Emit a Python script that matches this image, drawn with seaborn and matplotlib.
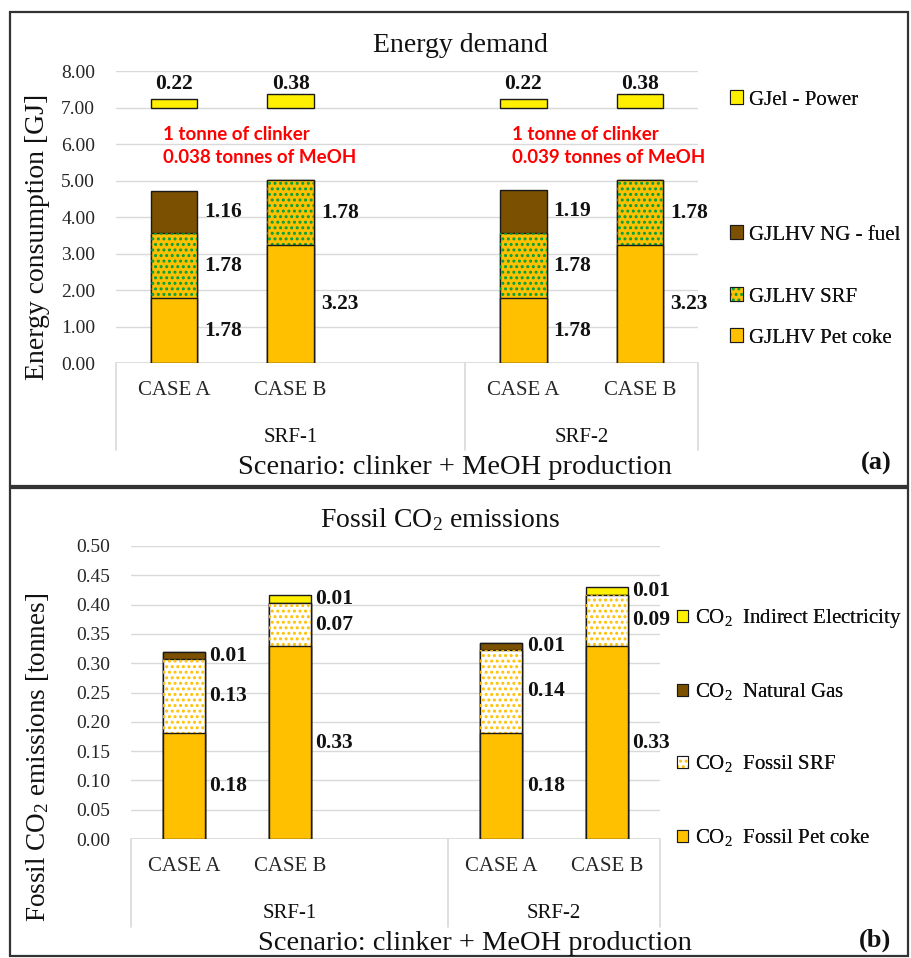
import numpy as np
import pandas as pd
import matplotlib
matplotlib.use("Agg")
import matplotlib.pyplot as plt
from matplotlib.patches import Patch, Rectangle
from matplotlib.legend_handler import HandlerTuple
import matplotlib.transforms as mtransforms
import seaborn as sns

# ── Data ──
SLOTS      = ["A1", "B1", "A2", "B2"]
SLOT_ORDER = ["A1", "B1", "gap", "A2", "B2"]   # blank slot between the two SRF groups
CASES      = ["CASE A", "CASE B", "CASE A", "CASE B"]
GROUPS     = ["SRF-1", "SRF-2"]
MEOH_T     = ["0.038", "0.039"]

# energy demand per tonne of clinker [GJ]
E_PETCOKE = [1.78, 3.23, 1.78, 3.23]
E_SRF     = [1.78, 1.78, 1.78, 1.78]
E_NG      = [1.16, 0.00, 1.19, 0.00]
E_POWER   = [0.22, 0.38, 0.22, 0.38]
POWER_BASE = 7.0

# fossil CO2 emissions [tonnes]
C_PETCOKE = [0.181, 0.329, 0.181, 0.329]
C_SRF     = [0.126, 0.074, 0.142, 0.088]
C_NG      = [0.012, 0.000, 0.012, 0.000]
C_ELEC    = [0.000, 0.013, 0.000, 0.013]

# ── Style ──
ORANGE = "#FFC000"
GREEN  = "#00A040"
BROWN  = "#7B5000"
YELLOW = "#FFEF00"
EDGE   = "#1a1a1a"
GRID   = "#D9D9D9"
RED    = "#FF0000"
DOTS   = "..."

sns.set_theme(style="whitegrid")
plt.rcParams.update({
    "font.family": ["Liberation Serif", "DejaVu Serif"],
    "mathtext.default": "regular",
    "hatch.linewidth": 1.4,
    "axes.edgecolor": "none",
    "grid.color": GRID,
    "grid.linewidth": 1.0,
    "text.color": "#111111",
})

W, H = 912, 958
fig = plt.figure(figsize=(W / 100, H / 100), dpi=100)
fig.patch.set_facecolor("white")


def px_box(x0, y0, x1, y1):
    """pixel box (top-left origin) -> figure fraction rect"""
    return [x0 / W, 1 - y1 / H, (x1 - x0) / W, (y1 - y0) / H]


def draw_layer(ax, heights, face, bottom=0.0, hatch=None, hatch_color=None):
    df = pd.DataFrame({"slot": SLOTS, "h": heights})
    sns.barplot(data=df, x="slot", y="h", order=SLOT_ORDER, color=face,
                saturation=1, width=0.4, errorbar=None, bottom=bottom,
                edgecolor=EDGE, linewidth=1.0, ax=ax, zorder=3)
    if hatch:
        sns.barplot(data=df, x="slot", y="h", order=SLOT_ORDER, color=hatch_color,
                    saturation=1, width=0.4, errorbar=None, bottom=bottom,
                    ax=ax, zorder=3)
        for bar in ax.containers[-1]:
            bar.set_facecolor("none")
            bar.set_edgecolor(hatch_color)
            bar.set_linewidth(0)
            bar.set_hatch(hatch)


def draw_stack(ax, layers, fmt_off):
    """layers bottom -> top: (values, face, hatch, hatch_color)"""
    cum = np.zeros(len(SLOTS))
    tops, bases = [], []
    for vals, *_ in layers:
        bases.append(cum.copy())
        cum = cum + np.asarray(vals)
        tops.append(cum.copy())
    # draw tallest first, lower layers cover it
    for (vals, face, hatch, hc), top in reversed(list(zip(layers, tops))):
        draw_layer(ax, top, face, hatch=hatch, hatch_color=hc)
    # value labels right of the bars
    for (vals, *_), base in zip(layers, bases):
        for slot, v, b in zip(SLOTS, vals, base):
            if v <= 0:
                continue
            x = SLOT_ORDER.index(slot)
            ax.text(x + 0.2 + fmt_off, b + v / 2, f"{v:.2f}", ha="left",
                    va="center", fontsize=15.5, fontweight="bold", zorder=5)


def category_axis(ax, sep_depth):
    pos = [SLOT_ORDER.index(s) for s in SLOTS]
    ax.set_xticks(pos)
    ax.set_xticklabels(CASES, fontsize=15)
    ax.tick_params(axis="x", length=0, pad=13)
    ax.set_xlabel("")
    ax.set_xlim(-0.5, len(SLOT_ORDER) - 0.5)
    ax.axhline(0, color=GRID, lw=1.2, zorder=2)
    trans = mtransforms.blended_transform_factory(ax.transData, ax.transAxes)
    for xs in (-0.5, 2.5, 4.5):
        ax.plot([xs, xs], [0, -sep_depth], color=GRID, lw=1.2,
                transform=trans, clip_on=False)
    ax.text(1.0, -0.255, GROUPS[0], transform=trans, ha="center", va="center", fontsize=15)
    ax.text(3.5, -0.255, GROUPS[1], transform=trans, ha="center", va="center", fontsize=15)
    ax.grid(axis="x", visible=False)
    ax.tick_params(axis="y", length=0, pad=15, labelsize=14)
    ax.set_ylabel("")


def entry_legend(entries, x_px, ys_px, fsize, hsize):
    for (handle, label), y in zip(entries, ys_px):
        leg = fig.legend(handles=[handle], labels=[label], loc="center left",
                         bbox_to_anchor=(x_px / W, 1 - y / H), frameon=False,
                         fontsize=fsize, handlelength=hsize, handleheight=hsize,
                         handletextpad=0.3, borderpad=0, borderaxespad=0,
                         handler_map={tuple: HandlerTuple(ndivide=1)})
        fig.add_artist(leg)


def hatched_handle(face, hatch, hc):
    return (Patch(facecolor=face, edgecolor="none", lw=0),
            Patch(facecolor="none", edgecolor=hc, lw=0, hatch=hatch),
            Patch(facecolor="none", edgecolor=EDGE, lw=0.8))


# ── (a) Energy demand ──
ax1 = fig.add_axes(px_box(116, 71, 698, 363))
draw_stack(ax1, [(E_PETCOKE, ORANGE, None, None),
                 (E_SRF, ORANGE, DOTS, GREEN),
                 (E_NG, BROWN, None, None)], fmt_off=0.06)
draw_layer(ax1, E_POWER, YELLOW, bottom=POWER_BASE)
for slot, v in zip(SLOTS, E_POWER):
    ax1.text(SLOT_ORDER.index(slot), POWER_BASE + 0.64, f"{v:.2f}", ha="center",
             va="center", fontsize=15.5, fontweight="bold", zorder=5)
for g, m in enumerate(MEOH_T):
    x0 = SLOT_ORDER.index(SLOTS[2 * g]) - 0.1
    ax1.text(x0, 6.25, "1 tonne of clinker", color=RED, fontsize=13.5,
             fontweight="bold", family="Lato", va="center", ha="left", zorder=5)
    ax1.text(x0, 5.62, f"{m} tonnes of MeOH", color=RED, fontsize=13.5,
             fontweight="bold", family="Lato", va="center", ha="left", zorder=5)
ax1.set_ylim(0, 8)
ax1.set_yticks(np.arange(0, 8.01, 1.0))
ax1.set_yticklabels([f"{t:.2f}" for t in np.arange(0, 8.01, 1.0)])
category_axis(ax1, 0.298)

# ── (b) Fossil CO2 emissions ──
ax2 = fig.add_axes(px_box(131, 546, 660, 839))
draw_stack(ax2, [(C_PETCOKE, ORANGE, None, None),
                 (C_SRF, "white", DOTS, ORANGE),
                 (C_NG, BROWN, None, None),
                 (C_ELEC, YELLOW, None, None)], fmt_off=0.04)
ax2.set_ylim(0, 0.5)
ticks2 = np.round(np.arange(0, 0.501, 0.05), 2)
ax2.set_yticks(ticks2)
ax2.set_yticklabels([f"{t:.2f}" for t in ticks2])
category_axis(ax2, 0.30)

# ── Titles, axis labels, panel letters ──
fig.text(460 / W, 1 - 45 / H, "Energy demand", ha="center", va="center", fontsize=20)
fig.text(440 / W, 1 - 520 / H, "Fossil CO$_2$ emissions", ha="center", va="center", fontsize=20)
fig.text(38 / W, 1 - 237 / H, "Energy consumption [GJ]", rotation=90,
         ha="center", va="center", fontsize=20)
fig.text(38 / W, 1 - 757 / H, "Fossil CO$_2$ emissions [tonnes]", rotation=90,
         ha="center", va="center", fontsize=19.5)
fig.text(455 / W, 1 - 467 / H, "Scenario: clinker + MeOH production",
         ha="center", va="center", fontsize=20.5)
fig.text(475 / W, 1 - 943 / H, "Scenario: clinker + MeOH production",
         ha="center", va="center", fontsize=20.5)
fig.text(876 / W, 1 - 463 / H, "(a)", ha="center", va="center", fontsize=19, fontweight="bold")
fig.text(875 / W, 1 - 940 / H, "(b)", ha="center", va="center", fontsize=19, fontweight="bold")

# ── Legends ──
entry_legend([(Patch(facecolor=YELLOW, edgecolor=EDGE, lw=0.8), "GJel - Power"),
              (Patch(facecolor=BROWN, edgecolor=EDGE, lw=0.8), "GJLHV NG - fuel"),
              (hatched_handle(ORANGE, DOTS, GREEN), "GJLHV SRF"),
              (Patch(facecolor=ORANGE, edgecolor=EDGE, lw=0.8), "GJLHV Pet coke")],
             730, [100, 235, 297, 338], 15, 0.62)
entry_legend([(Patch(facecolor=YELLOW, edgecolor=EDGE, lw=0.8), "CO$_2$  Indirect Electricity"),
              (Patch(facecolor=BROWN, edgecolor=EDGE, lw=0.8), "CO$_2$  Natural Gas"),
              (hatched_handle("white", DOTS, ORANGE), "CO$_2$  Fossil SRF"),
              (Patch(facecolor=ORANGE, edgecolor=EDGE, lw=0.8), "CO$_2$  Fossil Pet coke")],
             677, [619, 692, 764, 838], 15, 0.55)

# ── Panel frames ──
for y0, y1 in ((12, 486), (488, 956)):
    fig.add_artist(Rectangle((10 / W, 1 - y1 / H), 898 / W, (y1 - y0) / H,
                             transform=fig.transFigure, fill=False,
                             edgecolor="#333333", lw=1.6))

fig.savefig("out.png", dpi=100, facecolor="white")
